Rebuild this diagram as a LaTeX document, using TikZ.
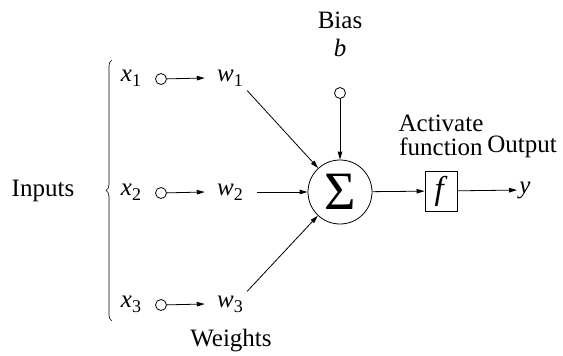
\documentclass[tikz,border=0pt]{standalone}
\usepackage{fontspec}
\setmainfont{Liberation Serif}[Ligatures=TeX]
\newfontfamily\diagfont{Liberation Serif}
\usepackage{tikz}
\usetikzlibrary{arrows.meta,calc,positioning,decorations.pathreplacing}

\newcommand{\invar}[2]{\textit{#1}\raisebox{-0.2em}{\fontsize{18}{18}\selectfont #2}}

\begin{document}
\begin{tikzpicture}[x=1pt,y=-1pt,
    font=\diagfont\fontsize{25}{24}\selectfont,
    line width=0.8pt,
    >={Triangle[length=8pt,width=4.5pt]},
    dot/.style={draw,circle,inner sep=0pt,minimum size=11pt},
    txt/.style={inner sep=2pt,align=center}]
  \useasboundingbox (0,0) rectangle (563,356);
  % inputs and weights
  \foreach \i/\y in {1/78,2/192,3/304} {
    \node[txt] (x\i) at (131,\y) {\invar{x}{\i}};
    \node[dot] (c\i) at (161,\y+1) {};
    \node[txt] (w\i) at (230,\y) {\invar{w}{\i}};
    \draw[->] (c\i) -- ($(w\i.west)+(-10,0)$);
  }
  \node[txt] (inputs) at (43,191) {Inputs};
  \draw[decoration={brace,amplitude=6pt},decorate,line width=0.6pt] (112,321) -- (112,60);
  \node[txt] (weights) at (231,341) {Weights};
  % summation
  \node[draw,circle,minimum size=64pt,inner sep=0pt,font=\diagfont\fontsize{54}{54}\selectfont] (sum) at (340,192) {Σ};
  \node[dot] (cb) at (340,93) {};
  \node[txt] (bias) at (340,20) {Bias};
  \node[txt] (b) at (340,48) {\textit{b}};
  \draw[->] (cb) -- (sum);
  \draw[->] ($(w1.south east)+(2,2)$) -- (sum);
  \draw[->] ($(w2.east)+(12,0)$) -- (sum);
  \draw[->] ($(w3.north east)+(2,-2)$) -- (sum);
  % activation and output
  \node[draw,inner sep=0pt,minimum width=32pt,minimum height=40pt,font=\diagfont\fontsize{33}{33}\selectfont] (f) at (441,191) {\textit{f}};
  \node[txt] (act) at (441,135) {Activate\\function};
  \node[txt] (outlab) at (522,147) {Output};
  \node[txt] (y) at (525,190) {\textit{y}};
  \draw[->] (sum) -- (f);
  \draw[->] (f) -- (y);
\end{tikzpicture}
\end{document}
